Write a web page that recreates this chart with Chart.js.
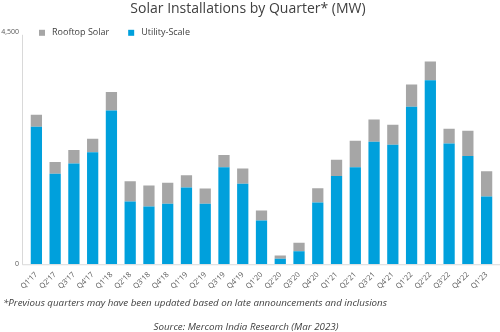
<!DOCTYPE html>
<html>
<head>
<meta charset="utf-8">
<title>Solar Installations by Quarter</title>
<script src="https://cdn.jsdelivr.net/npm/chart.js@4.4.0/dist/chart.umd.min.js"></script>
<style>
  body { margin: 0; background: #fff; font-family: 'Open Sans', sans-serif; }
  #wrap { position: relative; width: 500px; height: 332px; overflow: hidden; }
  #chartBox { position: absolute; left: 0; top: 0; width: 500px; height: 297px; }
  .note { position: absolute; font-style: italic; font-size: 9.75px; line-height: 13px; color: #404040; white-space: nowrap; }
  #footnote { left: 3px; top: 296px; }
  #source { left: 0; width: 492px; text-align: center; top: 320px; }
</style>
</head>
<body>
<div id="wrap">
  <div id="chartBox"><canvas id="myChart"></canvas></div>
  <div class="note" id="footnote">*Previous quarters may have been updated based on late announcements and inclusions</div>
  <div class="note" id="source">Source: Mercom India Research (Mar 2023)</div>
</div>
<script>
'use strict';
const ctx = document.getElementById('myChart');

const quarters = ["Q1'17", "Q2'17", "Q3'17", "Q4'17", "Q1'18", "Q2'18", "Q3'18", "Q4'18",
  "Q1'19", "Q2'19", "Q3'19", "Q4'19", "Q1'20", "Q2'20", "Q3'20", "Q4'20",
  "Q1'21", "Q2'21", "Q3'21", "Q4'21", "Q1'22", "Q2'22", "Q3'22", "Q4'22", "Q1'23"];

// MW installed each quarter
const utilityScale = [2660, 1750, 1950, 2170, 2975, 1215, 1120, 1170, 1485, 1170, 1880, 1560,
  845, 105, 250, 1195, 1710, 1880, 2370, 2315, 3050, 3560, 2340, 2095, 1310];
const rooftopSolar = [235, 230, 260, 260, 360, 390, 405, 410, 240, 295, 235, 295,
  195, 65, 165, 275, 315, 510, 430, 385, 430, 365, 285, 490, 490];

const yTicks = [0, 4500];

const textColor = '#404040';
const axisColor = '#d9d9d9';

// legend sits inside the plot, top left, plus the two axis lines
const cornerLegend = {
  id: 'cornerLegend',
  afterDraw(chart) {
    const c = chart.ctx;
    const area = chart.chartArea;
    c.save();

    c.strokeStyle = axisColor;
    c.lineWidth = 1;
    c.beginPath();
    c.moveTo(area.left - 4.5, area.top + 3);
    c.lineTo(area.left - 4.5, area.bottom + 0.5);
    c.lineTo(area.right + 4, area.bottom + 0.5);
    c.stroke();

    c.font = '9px "Open Sans"';
    c.textBaseline = 'middle';
    let x = area.left + 12;
    const y = area.top + 1;
    const sets = chart.data.datasets.slice().reverse();
    for (let i = 0; i < sets.length; i++) {
      c.fillStyle = sets[i].backgroundColor;
      c.fillRect(x, y - 3, 6, 6);
      x += 13;
      c.fillStyle = textColor;
      c.fillText(sets[i].label, x, y);
      x += c.measureText(sets[i].label).width + 19;
    }
    c.restore();
  }
};

new Chart(ctx, {
  type: 'bar',
  data: {
    labels: quarters,
    datasets: [{
      label: 'Utility-Scale',
      data: utilityScale,
      backgroundColor: '#00a0dc',
      barPercentage: 0.6,
      categoryPercentage: 1
    },
    {
      label: 'Rooftop Solar',
      data: rooftopSolar,
      backgroundColor: '#a6a6a6',
      barPercentage: 0.6,
      categoryPercentage: 1
    }]
  },
  options: {
    responsive: true,
    maintainAspectRatio: false,
    animation: false,
    layout: { padding: { left: 0, right: 4, top: 0, bottom: 0 } },
    plugins: {
      legend: { display: false },
      tooltip: { enabled: false },
      title: {
        display: true,
        text: 'Solar Installations by Quarter* (MW)',
        color: textColor,
        font: { family: 'Open Sans', size: 14, weight: 'normal' },
        padding: { top: 1, bottom: 14 }
      }
    },
    scales: {
      x: {
        stacked: true,
        grid: { display: false, drawTicks: false },
        border: { display: false },
        ticks: {
          color: '#595959',
          font: { family: 'Open Sans', size: 7.5 },
          maxRotation: 45,
          minRotation: 45,
          autoSkip: false,
          padding: 6
        }
      },
      y: {
        stacked: true,
        min: yTicks[0],
        max: yTicks[1],
        grid: { display: false, drawTicks: false },
        border: { display: false },
        afterBuildTicks(scale) {
          scale.ticks = yTicks.map(v => ({ value: v }));
        },
        afterFit(scale) {
          scale.width = 27;
        },
        ticks: {
          color: '#595959',
          font: { family: 'Open Sans', size: 7 },
          padding: 8
        }
      }
    }
  },
  plugins: [cornerLegend]
});
</script>
</body>
</html>
